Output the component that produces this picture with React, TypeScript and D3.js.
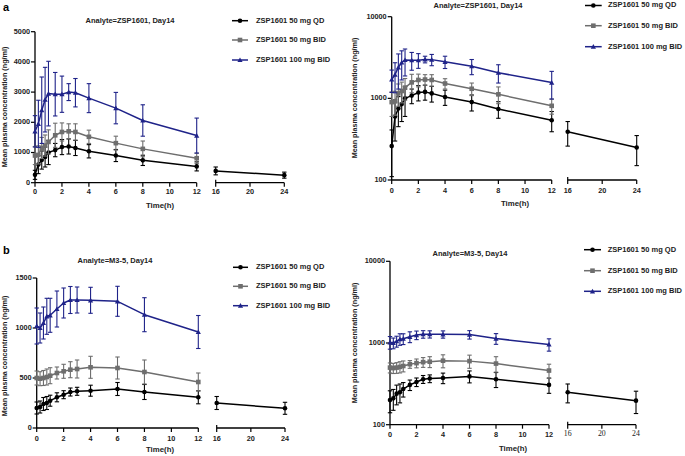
import React from "react";
import * as d3 from "d3";

// ---------- DATA ----------
const timesBID = [0, 0.25, 0.5, 0.75, 1, 1.5, 2, 2.5, 3, 4, 6, 8, 12];
const timesQD = [0, 0.25, 0.5, 0.75, 1, 1.5, 2, 2.5, 3, 4, 6, 8, 12, 16, 24];

const seriesNames = ["ZSP1601 50 mg QD", "ZSP1601 50 mg BID", "ZSP1601 100 mg BID"];

// Analyte = ZSP1601 (panel a)
const zspQDMean = [260, 600, 750, 850, 1000, 1080, 1180, 1200, 1150, 1040, 900, 740, 540, 390, 250];
const zspQDSD = [150, 300, 300, 330, 400, 220, 250, 250, 250, 220, 200, 170, 150, 130, 100];
const zspBID50Mean = [900, 920, 1150, 1230, 1350, 1570, 1680, 1700, 1680, 1520, 1310, 1120, 810];
const zspBID50SD = [300, 300, 350, 350, 400, 400, 300, 250, 270, 220, 230, 260, 170];
const zspBID100Mean = [1700, 1950, 2400, 2750, 2950, 2930, 2930, 3000, 2980, 2800, 2470, 2060, 1560];
const zspBID100SD = [520, 780, 1100, 1070, 1070, 720, 600, 280, 470, 480, 520, 520, 580];

// Analyte = M3-5 (panel b)
const m35QDMean = [200, 210, 240, 250, 273, 307, 333, 360, 367, 373, 390, 360, 307, 250, 197];
const m35QDSD = [60, 60, 65, 65, 55, 45, 40, 40, 40, 55, 65, 75, 65, 65, 60];
const m35BID50Mean = [500, 493, 500, 510, 523, 550, 567, 583, 590, 607, 600, 560, 460];
const m35BID50SD = [70, 70, 75, 80, 80, 60, 70, 80, 90, 110, 110, 120, 90];
const m35BID100Mean = [1020, 1000, 1050, 1117, 1127, 1190, 1250, 1280, 1280, 1277, 1267, 1133, 960];
const m35BID100SD = [180, 150, 160, 180, 170, 180, 150, 135, 130, 130, 150, 170, 165];

const xTicksA = [0, 2, 4, 6, 8, 10, 12];
const xTicksB = [16, 20, 24];
const yTicksZspLin = [0, 1000, 2000, 3000, 4000, 5000];
const yTicksM35Lin = [0, 500, 1000, 1500];
const yTicksLog = [100, 1000, 10000];

// ---------- STYLE ----------
const COLORS = ["#000000", "#6e6e6e", "#1f2389"];
const FONT = "'Liberation Sans', Arial, sans-serif";

type Series = { t: number[]; m: number[]; sd: number[] };

const zspSeries: Series[] = [
  { t: timesQD, m: zspQDMean, sd: zspQDSD },
  { t: timesBID, m: zspBID50Mean, sd: zspBID50SD },
  { t: timesBID, m: zspBID100Mean, sd: zspBID100SD },
];
const m35Series: Series[] = [
  { t: timesQD, m: m35QDMean, sd: m35QDSD },
  { t: timesBID, m: m35BID50Mean, sd: m35BID50SD },
  { t: timesBID, m: m35BID100Mean, sd: m35BID100SD },
];

type PanelCfg = {
  title: string;
  series: Series[];
  log: boolean;
  yDomain: [number, number];
  yTicks: number[];
  ax: number; x12: number; x16: number; x24: number;
  yTop: number; yBot: number;
  titleX: number; titleY: number;
  legLine: [number, number]; legText: number; legRows: number[];
  ylabX: number; ylabY: number;
  timeX: number; timeY: number;
  xLabY: number;
  serifB?: boolean;
};

function Marker({ i, x, y }: { i: number; x: number; y: number }) {
  const c = COLORS[i];
  if (i === 0) return <circle cx={x} cy={y} r={2.3} fill={c} />;
  if (i === 1) return <rect x={x - 2.3} y={y - 2.3} width={4.6} height={4.6} fill={c} />;
  const s = 2.6;
  return <path d={`M${x},${y - s}L${x + s},${y + s * 0.8}L${x - s},${y + s * 0.8}Z`} fill={c} />;
}

function Panel({ cfg }: { cfg: PanelCfg }) {
  const xa = d3.scaleLinear().domain([0, 12]).range([cfg.ax, cfg.x12]);
  const xb = d3.scaleLinear().domain([16, 24]).range([cfg.x16, cfg.x24]);
  const x = (t: number) => (t <= 12 ? xa(t) : xb(t));
  const y = cfg.log
    ? d3.scaleLog().domain(cfg.yDomain).range([cfg.yBot, cfg.yTop])
    : d3.scaleLinear().domain(cfg.yDomain).range([cfg.yBot, cfg.yTop]);
  const yv = (v: number) => y(Math.max(v, cfg.yDomain[0]));
  const line = d3
    .line<[number, number]>()
    .x((d) => x(d[0]))
    .y((d) => yv(d[1]));

  const fmt = (v: number) => String(v);

  return (
    <g>
      <text x={cfg.titleX} y={cfg.titleY} textAnchor="middle" dominantBaseline="middle"
        fontFamily={FONT} fontSize={7.5} fontWeight="bold" fill="#222">{cfg.title}</text>
      <line x1={cfg.ax} x2={cfg.ax} y1={cfg.yTop} y2={cfg.yBot} stroke="#000" strokeWidth={1.3} />
      {cfg.yTicks.map((v) => (
        <g key={v}>
          <line x1={cfg.ax - 4} x2={cfg.ax} y1={y(v)} y2={y(v)} stroke="#000" strokeWidth={1.2} />
          <text x={cfg.ax - 5} y={y(v)} textAnchor="end" dominantBaseline="middle"
            fontFamily={FONT} fontSize={7.3} fontWeight="bold" fill="#222">{fmt(v)}</text>
        </g>
      ))}
      <text transform={`translate(${cfg.ylabX},${cfg.ylabY}) rotate(-90)`} textAnchor="middle"
        dominantBaseline="middle" fontFamily={FONT} fontSize={7.2} fontWeight="bold" fill="#222">
        Mean plasma concentration (ng/ml)
      </text>
      <line x1={cfg.ax} x2={cfg.x12} y1={cfg.yBot} y2={cfg.yBot} stroke="#000" strokeWidth={1.3} />
      <line x1={cfg.x16} x2={cfg.x24} y1={cfg.yBot} y2={cfg.yBot} stroke="#000" strokeWidth={1.3} />
      {xTicksA.map((t) => (
        <g key={"a" + t}>
          <line x1={xa(t)} x2={xa(t)} y1={cfg.yBot} y2={cfg.yBot + 4} stroke="#000" strokeWidth={1.2} />
          <text x={xa(t)} y={cfg.xLabY} textAnchor="middle" dominantBaseline="middle"
            fontFamily={FONT} fontSize={7.3} fontWeight="bold" fill="#222">{t}</text>
        </g>
      ))}
      {xTicksB.map((t) => (
        <g key={"b" + t}>
          <line x1={xb(t)} x2={xb(t)} y1={cfg.yBot - (t === 16 ? 3 : 0)} y2={cfg.yBot + 4} stroke="#000" strokeWidth={1.2} />
          <text x={xb(t)} y={cfg.xLabY} textAnchor="middle" dominantBaseline="middle"
            fontFamily={cfg.serifB ? "'Liberation Serif', 'Times New Roman', serif" : FONT}
            fontSize={cfg.serifB ? 7.8 : 7.3} fontWeight={cfg.serifB ? "normal" : "bold"} fill="#222">{t}</text>
        </g>
      ))}
      <text x={cfg.timeX} y={cfg.timeY} textAnchor="middle" dominantBaseline="middle"
        fontFamily={FONT} fontSize={7.8} fontWeight="bold" fill="#222">Time(h)</text>

      {cfg.series.map((s, i) => {
        const pts: [number, number][] = s.t.map((t, k) => [t, s.m[k]]);
        const segA = pts.filter((p) => p[0] <= 12);
        const segB = pts.filter((p) => p[0] >= 16);
        const c = COLORS[i];
        return (
          <g key={i}>
            {s.t.map((t, k) => {
              const cx = x(t);
              const y1 = yv(s.m[k] + s.sd[k]);
              const y2 = yv(s.m[k] - s.sd[k]);
              return (
                <g key={k} stroke={c} strokeWidth={1.1}>
                  <line x1={cx} x2={cx} y1={y1} y2={y2} />
                  <line x1={cx - 2.2} x2={cx + 2.2} y1={y1} y2={y1} />
                  <line x1={cx - 2.2} x2={cx + 2.2} y1={y2} y2={y2} />
                </g>
              );
            })}
            <path d={line(segA) || ""} fill="none" stroke={c} strokeWidth={1.5} strokeLinejoin="round" />
            {segB.length > 1 && <path d={line(segB) || ""} fill="none" stroke={c} strokeWidth={1.5} />}
            {s.t.map((t, k) => (
              <Marker key={"m" + k} i={i} x={x(t)} y={yv(s.m[k])} />
            ))}
          </g>
        );
      })}

      {seriesNames.map((n, i) => {
        const ly = cfg.legRows[i];
        return (
          <g key={n}>
            <line x1={cfg.legLine[0]} x2={cfg.legLine[1]} y1={ly} y2={ly} stroke={COLORS[i]} strokeWidth={1.5} />
            <Marker i={i} x={(cfg.legLine[0] + cfg.legLine[1]) / 2} y={ly} />
            <text x={cfg.legText} y={ly} dominantBaseline="middle" fontFamily={FONT} fontSize={7.5}
              fontWeight="bold" fill="#222">{n}</text>
          </g>
        );
      })}
    </g>
  );
}

const panels: PanelCfg[] = [
  {
    title: "Analyte=ZSP1601, Day14", series: zspSeries, log: false, yDomain: [0, 5000], yTicks: yTicksZspLin,
    ax: 35, x12: 196.7, x16: 215.7, x24: 284.3, yTop: 31.7, yBot: 182.7,
    titleX: 130, titleY: 20.7, legLine: [232, 248], legText: 256, legRows: [20.7, 40, 60],
    ylabX: 5, ylabY: 107, timeX: 160, timeY: 205.7, xLabY: 192,
  },
  {
    title: "Analyte=ZSP1601, Day14", series: zspSeries, log: true, yDomain: [100, 10000], yTicks: yTicksLog,
    ax: 391.7, x12: 551.7, x16: 567.7, x24: 636.7, yTop: 16.7, yBot: 180,
    titleX: 478, titleY: 6.5, legLine: [585, 601.7], legText: 608, legRows: [5.5, 25.7, 46.7],
    ylabX: 355, ylabY: 98, timeX: 515, timeY: 204, xLabY: 191,
  },
  {
    title: "Analyte=M3-5, Day14", series: m35Series, log: false, yDomain: [0, 1500], yTicks: yTicksM35Lin,
    ax: 36.7, x12: 198.3, x16: 216.7, x24: 285, yTop: 278, yBot: 428,
    titleX: 115, titleY: 261.3, legLine: [233, 248], legText: 256, legRows: [267.3, 286.3, 305.7],
    ylabX: 5, ylabY: 356, timeX: 160, timeY: 449.7, xLabY: 438.7,
  },
  {
    title: "Analyte=M3-5, Day14", series: m35Series, log: true, yDomain: [100, 10000], yTicks: yTicksLog,
    ax: 390, x12: 549, x16: 567.7, x24: 636, yTop: 261.3, yBot: 424.7,
    titleX: 470, titleY: 254, legLine: [584, 601], legText: 607.7, legRows: [249.7, 270.7, 291.3],
    ylabX: 355, ylabY: 343, timeX: 513, timeY: 448.7, xLabY: 434.7, serifB: true,
  },
];

export default function App() {
  return (
    <svg width={685} height={456} viewBox="0 0 685 456"
      style={{ position: "absolute", left: 0, top: 0, background: "#fff" }}>
      <rect width={685} height={456} fill="#fff" />
      <text x={3} y={8.5} dominantBaseline="middle" fontFamily={FONT} fontSize={11} fontWeight="bold">a</text>
      <text x={3} y={251} dominantBaseline="middle" fontFamily={FONT} fontSize={11} fontWeight="bold">b</text>
      {panels.map((p, i) => (
        <Panel key={i} cfg={p} />
      ))}
    </svg>
  );
}
